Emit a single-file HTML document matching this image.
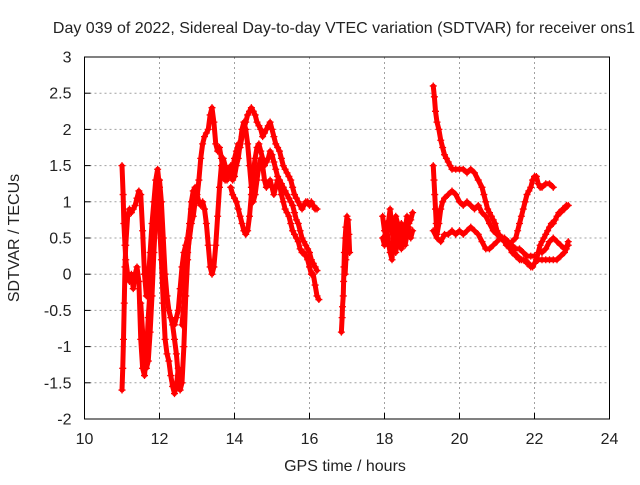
<!DOCTYPE html>
<html><head><meta charset="utf-8"><style>
body{margin:0;background:#fff;}
svg text{font-family:"Liberation Sans",sans-serif;fill:#222;}
</style></head><body>
<svg id="chart" width="640" height="480" viewBox="0 0 640 480" xmlns="http://www.w3.org/2000/svg">
<rect width="640" height="480" fill="#fff"/>
<text x="344" y="33" font-size="16" text-anchor="middle">Day 039 of 2022, Sidereal Day-to-day VTEC variation (SDTVAR) for receiver ons1</text>
<g id="grid"></g>
<g id="marks"></g>
<rect x="84.5" y="57" width="525" height="362" fill="none" stroke="#000" stroke-width="1"/>
<g id="ticks"></g>
<text x="345" y="471" font-size="16" text-anchor="middle">GPS time / hours</text>
<text x="0" y="0" font-size="16" text-anchor="middle" transform="translate(19,238) rotate(-90)">SDTVAR / TECUs</text>
</svg>
<script>
const xTicks=[10,12,14,16,18,20,22,24];
const yTicks=[-2,-1.5,-1,-0.5,0,0.5,1,1.5,2,2.5,3];
const yTickLabels=["-2","-1.5","-1","-0.5","0","0.5","1","1.5","2","2.5","3"];
const t1=[11.0,11.02,11.04,11.06,11.08,11.1,11.15,11.2,11.25,11.3,11.35,11.4,11.45,11.5,11.55,11.6,11.65,11.7,11.75,11.8,11.85,11.9,11.95,12.0];
const v1=[-1.6,-1.3,-0.9,-0.4,0.1,0.4,0.8,0.9,0.85,0.9,0.95,1.05,1.15,1.1,0.6,0.0,-0.3,-0.1,0.3,0.7,1.0,1.3,1.45,1.2];
const t2=[11.0,11.03,11.05,11.08,11.1,11.15,11.2,11.25,11.3,11.35,11.4,11.45,11.5,11.55,11.6,11.65,11.7,11.75,11.8,11.85,11.9,11.95,12.0,12.05,12.1,12.15,12.2,12.25,12.3,12.35,12.4,12.45,12.5];
const v2=[1.5,1.1,0.7,0.4,0.2,0.0,-0.1,0.0,-0.2,0.0,0.1,-0.1,-0.9,-1.3,-1.4,-1.1,-0.6,-0.2,0.2,0.5,0.8,1.1,0.7,0.2,-0.4,-0.9,-1.1,-1.2,-1.4,-1.55,-1.65,-1.55,-1.3];
const t3=[11.5,11.55,11.6,11.65,11.7,11.75,11.8,11.85,11.9,11.95,12.0,12.05,12.1,12.15,12.2,12.25,12.3,12.35,12.4,12.45,12.5,12.55,12.6,12.65,12.7,12.75,12.8,12.85,12.9,12.95,13.0];
const v3=[-0.4,-0.8,-1.2,-1.3,-1.2,-0.8,-0.3,0.3,0.8,1.2,1.3,1.0,0.5,0.0,-0.3,-0.5,-0.6,-0.7,-0.9,-1.1,-1.4,-1.6,-1.5,-1.0,-0.3,0.2,0.6,0.9,1.0,1.1,1.2];
const t4=[12.4,12.45,12.5,12.55,12.6,12.65,12.7,12.75,12.8,12.85,12.9,12.95,13.0,13.05,13.1,13.15,13.2,13.25,13.3,13.35,13.4,13.45,13.5,13.55,13.6,13.65,13.7,13.75,13.8,13.85,13.9,13.95,14.0,14.05,14.1,14.15,14.2,14.25,14.3,14.35,14.4,14.45,14.5,14.55,14.6,14.65,14.7,14.75,14.8,14.85,14.9,14.95,15.0,15.05,15.1,15.15,15.2,15.25,15.3,15.35,15.4,15.45,15.5,15.55,15.6,15.65,15.7,15.75,15.8,15.85,15.9,15.95,16.0,16.05,16.1,16.15,16.2,16.25];
const v4=[-0.7,-0.6,-0.5,-0.2,0.1,0.3,0.4,0.5,0.7,1.0,1.15,1.2,1.1,1.0,0.95,1.0,0.9,0.7,0.4,0.1,0.0,0.1,0.4,0.8,1.2,1.5,1.6,1.5,1.4,1.35,1.4,1.3,1.35,1.5,1.6,1.8,2.0,2.1,2.0,1.8,1.5,1.2,1.0,1.1,1.3,1.5,1.6,1.5,1.3,1.2,1.25,1.3,1.2,1.1,1.2,1.3,1.25,1.1,1.0,0.9,0.85,0.8,0.7,0.6,0.55,0.5,0.45,0.35,0.3,0.3,0.25,0.2,0.1,0.0,0.0,-0.15,-0.3,-0.35];
const t5=[12.6,12.65,12.7,12.75,12.8,12.85,12.9,12.95,13.0,13.05,13.1,13.15,13.2,13.25,13.3,13.35,13.4,13.45,13.5,13.55,13.6,13.65,13.7,13.75,13.8,13.85,13.9,13.95,14.0,14.05,14.1,14.15,14.2,14.25,14.3,14.35,14.4,14.45,14.5,14.55,14.6,14.65,14.7,14.75,14.8,14.85,14.9,14.95,15.0,15.05,15.1,15.15,15.2,15.25,15.3,15.35,15.4,15.45,15.5,15.55,15.6,15.65,15.7,15.75,15.8,15.85,15.9,15.95,16.0,16.05,16.1,16.15,16.2];
const v5=[-0.7,-0.4,0.0,0.3,0.5,0.7,0.8,1.0,1.05,1.3,1.6,1.8,1.9,1.95,2.0,2.2,2.3,2.1,1.8,1.7,1.75,1.6,1.4,1.3,1.3,1.4,1.5,1.45,1.6,1.7,1.8,1.75,1.9,2.0,2.1,2.2,2.25,2.3,2.25,2.2,2.1,2.05,2.0,1.9,1.95,2.0,2.05,2.1,2.0,1.9,1.8,1.75,1.7,1.6,1.5,1.45,1.4,1.35,1.3,1.2,1.1,1.05,1.0,0.95,0.9,0.95,1.0,1.0,0.95,1.0,0.95,0.9,0.9];
const t6=[13.9,13.95,14.0,14.05,14.1,14.15,14.2,14.25,14.3,14.35,14.4,14.45,14.5,14.55,14.6,14.65,14.7,14.75,14.8,14.85,14.9,14.95,15.0,15.05,15.1,15.15,15.2,15.25,15.3,15.35,15.4,15.45,15.5,15.55,15.6,15.65,15.7,15.75,15.8,15.85,15.9,15.95,16.0,16.05,16.1,16.15,16.2];
const v6=[1.2,1.1,1.05,1.0,0.9,0.8,0.7,0.6,0.55,0.6,0.8,1.1,1.4,1.6,1.75,1.8,1.7,1.6,1.5,1.55,1.6,1.7,1.65,1.55,1.45,1.35,1.3,1.25,1.2,1.15,1.1,1.05,1.0,0.95,0.85,0.75,0.7,0.6,0.5,0.45,0.4,0.35,0.3,0.2,0.15,0.1,0.05];
const t7a=[16.85,16.87,16.88,16.9,16.91,16.92,16.93,16.95,16.97,17.0];
const v7a=[-0.8,-0.6,-0.45,-0.3,-0.1,0.1,0.3,0.5,0.65,0.8];
const t7b=[16.95,16.97,16.99,17.01,17.03,17.05,17.07];
const v7b=[0.0,0.2,0.4,0.6,0.75,0.55,0.3];
const t8=[17.95,18.0,18.05,18.1,18.15,18.2,18.25,18.3,18.35,18.4,18.45,18.5,18.55,18.6,18.65,18.7,18.75];
const v8a=[0.8,0.6,0.5,0.7,0.9,0.6,0.4,0.3,0.5,0.6,0.7,0.5,0.6,0.8,0.7,0.75,0.85];
const v8b=[0.5,0.4,0.7,0.45,0.3,0.2,0.6,0.8,0.7,0.45,0.35,0.6,0.4,0.55,0.65,0.5,0.6];
const t9=[19.3,19.33,19.36,19.4,19.45,19.5,19.55,19.6,19.65,19.7,19.75,19.8,19.9,20.0,20.1,20.2,20.3,20.4,20.5,20.6,20.65,20.7,20.75,20.8,20.85,20.9,20.95,21.0,21.05,21.1,21.15,21.2,21.25,21.3,21.35,21.4,21.45,21.5,21.55,21.6,21.65,21.7,21.75,21.8,21.85,21.9,21.95,22.0,22.05,22.1,22.15,22.2,22.25,22.3,22.35,22.4,22.45,22.5,22.55,22.6,22.65,22.7,22.75,22.8,22.85,22.9];
const v9=[2.6,2.45,2.25,2.1,2.0,1.85,1.75,1.65,1.6,1.55,1.5,1.45,1.45,1.45,1.45,1.4,1.45,1.4,1.3,1.2,1.1,1.0,0.9,0.85,0.8,0.75,0.7,0.6,0.55,0.5,0.5,0.45,0.4,0.4,0.35,0.3,0.3,0.25,0.25,0.2,0.2,0.2,0.2,0.15,0.15,0.1,0.1,0.15,0.2,0.3,0.4,0.45,0.5,0.55,0.6,0.65,0.7,0.7,0.75,0.8,0.85,0.85,0.9,0.9,0.95,0.95];
const t10=[19.3,19.32,19.34,19.36,19.38,19.4,19.45,19.5,19.55,19.6,19.7,19.8,19.9,20.0,20.1,20.2,20.3,20.4,20.5,20.6,20.7,20.8,20.9,21.0,21.1,21.2,21.3,21.4,21.5,21.55,21.6,21.65,21.7,21.75,21.8,21.85,21.9,21.95,22.0,22.05,22.1,22.15,22.2,22.3,22.4,22.5];
const v10=[1.5,1.3,1.1,0.9,0.7,0.55,0.7,0.9,1.0,1.05,1.1,1.15,1.1,1.0,0.95,1.0,0.95,0.9,0.95,0.85,0.8,0.7,0.6,0.55,0.5,0.45,0.4,0.45,0.5,0.6,0.7,0.8,0.9,1.0,1.1,1.15,1.2,1.3,1.35,1.35,1.25,1.2,1.2,1.25,1.25,1.2];
const t11=[19.3,19.4,19.5,19.6,19.7,19.8,19.9,20.0,20.1,20.2,20.3,20.4,20.5,20.6,20.7,20.8,20.9,21.0,21.1,21.2,21.3,21.4,21.5,21.6,21.7,21.8,21.9,22.0,22.1,22.2,22.3,22.4,22.5,22.6,22.7,22.8,22.85,22.9];
const v11=[0.6,0.5,0.45,0.55,0.55,0.6,0.55,0.6,0.55,0.6,0.65,0.6,0.55,0.45,0.35,0.35,0.4,0.45,0.5,0.5,0.45,0.4,0.35,0.35,0.3,0.25,0.25,0.25,0.2,0.2,0.2,0.2,0.2,0.2,0.25,0.3,0.35,0.45];
const t12=[22.2,22.3,22.4,22.5,22.6,22.7,22.8,22.9];
const v12=[0.3,0.35,0.45,0.5,0.45,0.4,0.35,0.4];

const series=[[t1,v1],[t2,v2],[t3,v3],[t4,v4],[t5,v5],[t6,v6],[t7a,v7a],[t7b,v7b],[t8,v8a],[t8,v8b],[t9,v9],[t10,v10],[t11,v11],[t12,v12]];
const X0=84.5,X1=609.5,Y0=419,Y1=57;
function xs(t){return X0+(t-10)/(24-10)*(X1-X0);}
function ys(v){return Y0-(v+2)/(3+2)*(Y0-Y1);}
const NS="http://www.w3.org/2000/svg";
const grid=document.getElementById('grid'),ticks=document.getElementById('ticks'),marks=document.getElementById('marks');
function mk(tag,attrs,parent){const e=document.createElementNS(NS,tag);for(const k in attrs)e.setAttribute(k,attrs[k]);parent.appendChild(e);return e;}
xTicks.forEach(t=>{
  const x=xs(t);
  if(t>10&&t<24){const g=mk('line',{x1:x,x2:x,y1:Y1,y2:Y0,stroke:'#a0a0a0','stroke-dasharray':'2,3'},grid);
  
  }
  const tk=mk('line',{x1:x,x2:x,y1:Y0,y2:Y0-6,stroke:'#000'},ticks);
  
  
  const tx=mk('text',{x:x,y:Y0+25,'font-size':'16','text-anchor':'middle'},ticks);
  tx.textContent=String(t);
  
  
});
yTicks.forEach((v,i)=>{
  const y=ys(v);
  if(v>-2&&v<3){const g=mk('line',{x1:X0,x2:X1,y1:y,y2:y,stroke:'#a0a0a0','stroke-dasharray':'2,3'},grid);
  
  }
  const tk=mk('line',{x1:X0,x2:X0+6,y1:y,y2:y,stroke:'#000'},ticks);
  
  
  const tx=mk('text',{x:X0-13,y:y+5.5,'font-size':'16','text-anchor':'end'},ticks);
  tx.textContent=yTickLabels[i];
  
  
});
series.forEach(([ts,vs])=>{
  const pts=ts.map((t,i)=>xs(t)+','+ys(vs[i])).join(' ');
  const pl=mk('polyline',{points:pts,stroke:'#ff0000','stroke-width':'5','stroke-linejoin':'round','stroke-linecap':'round',fill:'none'},marks);
  
  
  ts.forEach((t,i)=>{
    const x=xs(t),y=ys(vs[i]);
    const p=mk('path',{d:`M${x-3.5},${y}H${x+3.5}M${x},${y-3.5}V${y+3.5}`,stroke:'#ff0000','stroke-width':'1.3',fill:'none'},marks);
    
    
  });
});
</script>
</body></html>
